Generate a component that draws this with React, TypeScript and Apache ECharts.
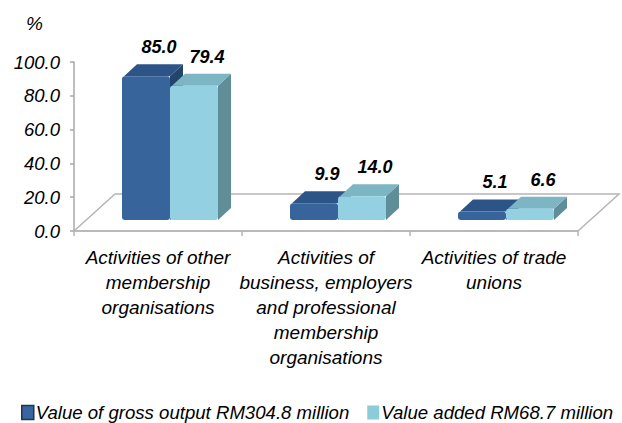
import React, { useEffect, useRef } from "react";
import * as echarts from "echarts";

const categories = [
  "Activities of other\nmembership\norganisations",
  "Activities of\nbusiness, employers\nand professional\nmembership\norganisations",
  "Activities of trade\nunions",
];
const grossOutput = [85.0, 9.9, 5.1];
const valueAdded = [79.4, 14.0, 6.6];
const seriesNames = ["Value of gross output RM304.8 million", "Value added RM68.7 million"];
const yTicks = { min: 0, max: 100, interval: 20 };

const FONT = "'Liberation Sans', Arial, sans-serif";

const palettes = [
  { front: "#37649A", top: "#2C5487", side: "#23446C", legend: "#3A66A0" },
  { front: "#93D0E1", top: "#7CB5C4", side: "#5F8E99", legend: "#8CCBDA" },
];

// 3D projection offsets (decorative geometry)
const OX = 12, OY = -11; // bar front plane shift from axis front
const DX = 13, DY = -12; // bar depth
const FLOOR_DX = 41, FLOOR_DY = -37;
const BAR_W = 48;

function makeBarRender(sIdx: number) {
  return (params: any, api: any) => {
    const cat = api.value(0);
    const val = api.value(1);
    const base = api.coord([cat, 0]);
    const topP = api.coord([cat, val]);
    const cx = base[0];
    const L = cx + OX - BAR_W + sIdx * BAR_W;
    const T = topP[1] + OY;
    const B = base[1] + OY;
    const p = palettes[sIdx];
    return {
      type: "group",
      children: [
        {
          type: "polygon",
          shape: { points: [[L + BAR_W, T], [L + BAR_W + DX, T + DY], [L + BAR_W + DX, B + DY], [L + BAR_W, B]] },
          style: { fill: p.side },
        },
        {
          type: "polygon",
          shape: { points: [[L + 2, T], [L + BAR_W, T], [L + BAR_W + DX, T + DY], [L + DX + 2, T + DY]] },
          style: { fill: p.top },
        },
        {
          type: "rect",
          shape: { x: L, y: T, width: BAR_W, height: B - T, r: [3, 3, 3, 3] },
          style: { fill: p.front },
        },
        {
          type: "text",
          x: L + BAR_W / 2 + DX,
          y: T + DY - 17,
          style: {
            text: val.toFixed(1),
            fontFamily: FONT,
            fontSize: 18,
            fontStyle: "italic",
            fontWeight: "bold",
            fill: "#000",
            align: "center",
            verticalAlign: "middle",
          },
        },
      ],
    };
  };
}

function floorRender(params: any, api: any) {
  const cs = params.coordSys;
  const x0 = cs.x, y0 = cs.y + cs.height, w = cs.width;
  return {
    type: "polygon",
    shape: {
      points: [
        [x0, y0],
        [x0 + FLOOR_DX, y0 + FLOOR_DY],
        [x0 + w + FLOOR_DX, y0 + FLOOR_DY],
        [x0 + w, y0],
      ],
    },
    style: { fill: "#ffffff", stroke: "#b5b5b5", lineWidth: 1.5 },
  };
}

export default function App() {
  const ref = useRef<HTMLDivElement>(null);
  useEffect(() => {
    if (!ref.current) return;
    const chart = echarts.init(ref.current, null, { renderer: "svg" });
    chart.setOption({
      animation: false,
      backgroundColor: "#ffffff",
      title: {
        text: "%",
        left: 21,
        top: 9,
        textStyle: { fontFamily: FONT, fontSize: 19, fontStyle: "italic", fontWeight: "normal", color: "#000" },
      },
      grid: { left: 74, right: 44, top: 62, bottom: 192, containLabel: false, outerBoundsMode: "none" } as any,
      legend: {
        left: 21,
        top: 403,
        padding: 0,
        itemWidth: 12,
        itemHeight: 14,
        itemGap: 18,
        icon: "rect",
        data: seriesNames.map((n, i) => ({
          name: n,
          itemStyle: { color: palettes[i].legend, borderColor: "#1f3550", borderWidth: i === 0 ? 1.5 : 0 },
        })),
        textStyle: { fontFamily: FONT, fontSize: 18.6, fontStyle: "italic", color: "#000", padding: [0, 0, 0, -3] },
      },
      xAxis: {
        type: "category",
        data: categories,
        axisLine: { show: true, lineStyle: { color: "#b5b5b5", width: 1.5 } },
        axisTick: { show: true, length: 5, alignWithLabel: false, lineStyle: { color: "#b5b5b5", width: 1.5 } },
        axisLabel: {
          interval: 0,
          margin: 14,
          fontFamily: FONT,
          fontSize: 19,
          fontStyle: "italic",
          color: "#000",
          lineHeight: 25,
          align: "center",
        },
        splitLine: { show: false },
        z: 5,
      },
      yAxis: {
        type: "value",
        min: yTicks.min,
        max: yTicks.max,
        interval: yTicks.interval,
        axisLine: { show: true, lineStyle: { color: "#a8a8a8", width: 1.5 } },
        axisTick: { show: true, length: 4, lineStyle: { color: "#a8a8a8", width: 1.5 } },
        axisLabel: {
          margin: 14,
          fontFamily: FONT,
          fontSize: 18.5,
          fontStyle: "italic",
          color: "#000",
          formatter: (v: number) => v.toFixed(1),
        },
        splitLine: { show: false },
      },
      series: [
        {
          type: "custom",
          name: "floor",
          silent: true,
          renderItem: floorRender,
          data: [[0, 0]],
          z: 1,
          encode: { x: 0, y: 1 },
        },
        {
          type: "custom",
          name: seriesNames[0],
          renderItem: makeBarRender(0),
          data: grossOutput.map((v, i) => [i, v]),
          itemStyle: { color: palettes[0].legend },
          encode: { x: 0, y: 1 },
          z: 3,
        },
        {
          type: "custom",
          name: seriesNames[1],
          renderItem: makeBarRender(1),
          data: valueAdded.map((v, i) => [i, v]),
          itemStyle: { color: palettes[1].legend },
          encode: { x: 0, y: 1 },
          z: 4,
        },
      ],
    });
    return () => chart.dispose();
  }, []);
  return (
    <div
      ref={ref}
      style={{ position: "fixed", left: 0, top: 0, width: 622, height: 423, overflow: "hidden" }}
    />
  );
}
